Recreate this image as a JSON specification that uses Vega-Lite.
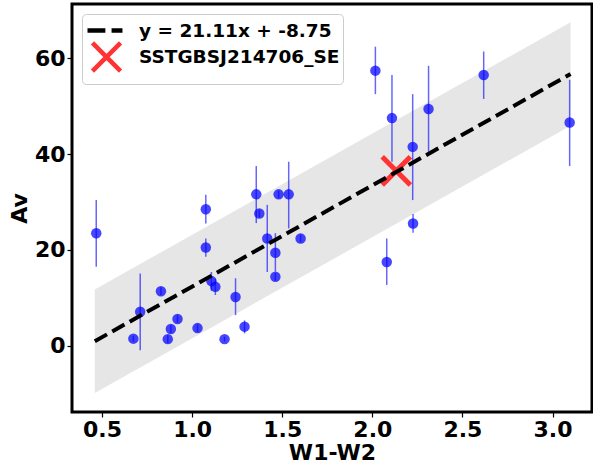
{
  "$schema": "https://vega.github.io/schema/vega-lite/v6.json",
  "width": 520,
  "height": 408,
  "autosize": "none",
  "padding": {"left": 72, "top": 4, "right": 1, "bottom": 58},
  "background": "white",
  "config": {
    "font": "DejaVu Sans",
    "view": {"stroke": "black", "strokeWidth": 3},
    "axis": {
      "domain": false,
      "grid": false,
      "ticks": true,
      "tickColor": "black",
      "tickWidth": 1.2,
      "tickSize": 5,
      "labelFont": "DejaVu Sans",
      "labelFontWeight": "bold",
      "labelFontSize": 22,
      "labelColor": "black",
      "labelPadding": 2,
      "titleFont": "DejaVu Sans",
      "titleFontWeight": "bold",
      "titleFontSize": 22,
      "titleColor": "black"
    },
    "legend": {
      "orient": "top-left",
      "offset": 10,
      "title": null,
      "padding": 3,
      "rowPadding": -6.5,
      "strokeColor": "#cccccc",
      "fillColor": "white",
      "cornerRadius": 4,
      "symbolSize": 506,
      "symbolStrokeWidth": 4.5,
      "symbolOffset": 8,
      "labelOffset": 19,
      "labelFont": "DejaVu Sans",
      "labelFontWeight": "bold",
      "labelFontSize": 18.5,
      "labelColor": "black",
      "labelLimit": 400
    }
  },
  "datasets": {
    "pts": [
      {"w": 0.468, "av": 23.5, "lo": 16.5, "hi": 30.4},
      {"w": 0.674, "av": 1.5, "lo": 0.9, "hi": 2.1},
      {"w": 0.712, "av": 7.1, "lo": -0.9, "hi": 15.1},
      {"w": 0.827, "av": 11.4, "lo": 10.6, "hi": 12.2},
      {"w": 0.865, "av": 1.4, "lo": 0.6, "hi": 2.2},
      {"w": 0.882, "av": 3.5, "lo": 2.7, "hi": 4.3},
      {"w": 0.919, "av": 5.6, "lo": 4.8, "hi": 6.4},
      {"w": 1.03, "av": 3.7, "lo": 2.9, "hi": 4.5},
      {"w": 1.076, "av": 28.5, "lo": 25.5, "hi": 31.5},
      {"w": 1.076, "av": 20.5, "lo": 18.6, "hi": 22.4},
      {"w": 1.107, "av": 13.5, "lo": 11.5, "hi": 15.4},
      {"w": 1.129, "av": 12.3, "lo": 10.6, "hi": 14.0},
      {"w": 1.18, "av": 1.4, "lo": 0.9, "hi": 1.9},
      {"w": 1.241, "av": 10.2, "lo": 6.4, "hi": 14.1},
      {"w": 1.291, "av": 4.0, "lo": 2.6, "hi": 5.3},
      {"w": 1.356, "av": 31.6, "lo": 25.6, "hi": 37.5},
      {"w": 1.373, "av": 27.6, "lo": 26.8, "hi": 28.4},
      {"w": 1.417, "av": 22.4, "lo": 15.4, "hi": 29.4},
      {"w": 1.462, "av": 19.4, "lo": 15.5, "hi": 23.5},
      {"w": 1.462, "av": 14.4, "lo": 13.6, "hi": 15.2},
      {"w": 1.48, "av": 31.6, "lo": 30.8, "hi": 32.4},
      {"w": 1.536, "av": 31.6, "lo": 24.5, "hi": 38.4},
      {"w": 1.602, "av": 22.4, "lo": 21.6, "hi": 23.2},
      {"w": 2.017, "av": 57.4, "lo": 52.5, "hi": 62.4},
      {"w": 2.08, "av": 17.5, "lo": 12.7, "hi": 22.4},
      {"w": 2.109, "av": 47.5, "lo": 38.4, "hi": 56.5},
      {"w": 2.224, "av": 41.5, "lo": 30.4, "hi": 52.5},
      {"w": 2.226, "av": 25.5, "lo": 23.6, "hi": 27.5},
      {"w": 2.312, "av": 49.4, "lo": 40.5, "hi": 58.4},
      {"w": 2.618, "av": 56.5, "lo": 51.5, "hi": 61.4},
      {"w": 3.095, "av": 46.6, "lo": 37.5, "hi": 55.5}
    ],
    "fit": [
      {"w": 0.46, "av": 0.96, "lo": -9.84, "hi": 11.76},
      {"w": 3.1, "av": 56.69, "lo": 45.89, "hi": 67.49}
    ],
    "src": [
      {"w": 2.133, "av": 36.5, "label": "SSTGBSJ214706_SE"}
    ]
  },
  "layer": [
    {
      "data": {"name": "fit"},
      "mark": {"type": "area", "color": "#e6e6e6", "opacity": 1},
      "encoding": {
        "x": {"field": "w", "type": "quantitative", "scale": {"domain": [0.3335, 3.219], "nice": false, "zero": false},
              "axis": {"values": [0.5, 1.0, 1.5, 2.0, 2.5, 3.0], "format": ".1f", "title": "W1-W2", "titlePadding": 2}},
        "y": {"field": "lo", "type": "quantitative", "scale": {"domain": [-13.8, 71.3], "nice": false, "zero": false},
              "axis": {"values": [0, 20, 40, 60], "title": "Av", "titlePadding": 3}},
        "y2": {"field": "hi"}
      }
    },
    {
      "data": {"name": "pts"},
      "mark": {"type": "rule", "color": "#0000ff", "opacity": 0.6, "strokeWidth": 1.5},
      "encoding": {
        "x": {"field": "w", "type": "quantitative"},
        "y": {"field": "lo", "type": "quantitative"},
        "y2": {"field": "hi"}
      }
    },
    {
      "data": {"name": "pts"},
      "mark": {"type": "circle", "color": "#0000ff", "opacity": 0.72, "size": 110},
      "encoding": {
        "x": {"field": "w", "type": "quantitative"},
        "y": {"field": "av", "type": "quantitative"}
      }
    },
    {
      "data": {"name": "src"},
      "mark": {"type": "point", "filled": false, "strokeWidth": 5, "size": 506, "opacity": 1},
      "encoding": {
        "x": {"field": "w", "type": "quantitative"},
        "y": {"field": "av", "type": "quantitative"},
        "shape": {"field": "label", "type": "nominal",
                  "scale": {"domain": ["y = 21.11x + -8.75", "SSTGBSJ214706_SE"],
                            "range": ["M-1.69,0H-0.1M0.45,0H1.42", "M-1.25,-1.25L1.25,1.25M-1.25,1.25L1.25,-1.25"]}},
        "color": {"field": "label", "type": "nominal",
                  "scale": {"domain": ["y = 21.11x + -8.75", "SSTGBSJ214706_SE"], "range": ["black", "#ff3333"]}}
      }
    },
    {
      "data": {"name": "fit"},
      "mark": {"type": "line", "color": "black", "strokeWidth": 4, "strokeDash": [14, 6]},
      "encoding": {
        "x": {"field": "w", "type": "quantitative"},
        "y": {"field": "av", "type": "quantitative"}
      }
    }
  ]
}
